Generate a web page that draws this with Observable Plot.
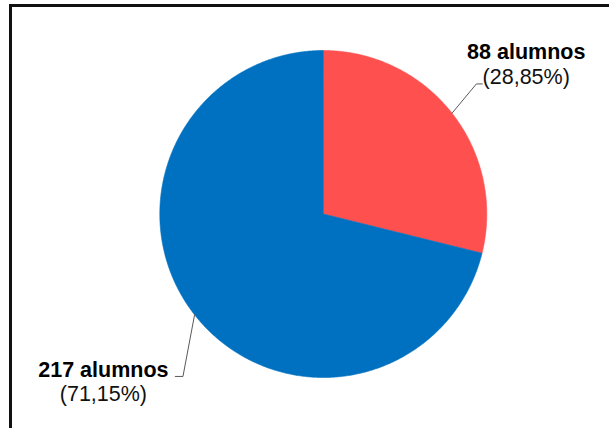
<!DOCTYPE html>
<html>
<head>
<meta charset="utf-8">
<script src="https://cdn.jsdelivr.net/npm/d3@7"></script>
<script src="https://cdn.jsdelivr.net/npm/@observablehq/plot@0.6"></script>
<style>
  html, body { margin: 0; padding: 0; background: #fff; overflow: hidden; }
  #wrap { position: relative; width: 609px; height: 428px; }
  #frame { position: absolute; left: 9px; top: 4px; width: 700px; height: 500px;
           border-left: 3px solid #111; border-top: 3px solid #111; box-sizing: border-box; }
  #chart { position: absolute; left: 0; top: 0; }
</style>
</head>
<body>
<div id="wrap"><div id="frame"></div><div id="chart"></div></div>
<script>
// ---- data ----
const categories = ["Grupo A", "Grupo B"];
const counts = [88, 217];
const countLabels = ["88 alumnos", "217 alumnos"];
const percentLabels = ["(28,85%)", "(71,15%)"];
const colors = ["#FF5050", "#0070C0"];

// ---- layout (not data) ----
const W = 609, H = 428;
const cx = 322.8, cy = 213.5, R = 163.5;
// per-slice label layout, in radius units relative to rim point
const labelLayout = [
  {elbow: [0.149, 0.179], tick: 0.036, text: [1.241, 0.796], line: 25},
  {elbow: [-0.071, -0.377], tick: -0.047, text: [-1.345, -1.144], line: 24.5}
];

// ---- geometry from data via d3.pie ----
const pie = d3.pie().sort(null).startAngle(0).endAngle(2 * Math.PI)(counts);
const slices = pie.map((p, i) => ({...p, cat: categories[i], color: colors[i]}));

const poly = [];
slices.forEach(s => {
  const n = Math.max(8, Math.ceil((s.endAngle - s.startAngle) / (Math.PI / 360)));
  poly.push({cat: s.cat, x: 0, y: 0});
  for (let k = 0; k <= n; k++) {
    const a = s.startAngle + (s.endAngle - s.startAngle) * k / n;
    poly.push({cat: s.cat, x: Math.sin(a), y: Math.cos(a)});
  }
  poly.push({cat: s.cat, x: 0, y: 0});
});

const leaders = [];
const labels = [];
slices.forEach((s, i) => {
  const mid = (s.startAngle + s.endAngle) / 2;
  const L = labelLayout[i];
  const px = Math.sin(mid), py = Math.cos(mid);
  const ex = px + L.elbow[0], ey = py + L.elbow[1];
  leaders.push({cat: s.cat, x: px, y: py});
  leaders.push({cat: s.cat, x: ex, y: ey});
  leaders.push({cat: s.cat, x: ex + L.tick, y: ey});
  labels.push({cat: s.cat, x: L.text[0], y: L.text[1], count: countLabels[i], pct: percentLabels[i], line: L.line});
});

const chart = Plot.plot({
  width: W, height: H,
  margin: 0,
  style: {background: "transparent", overflow: "visible"},
  x: {domain: [-1, 1], range: [cx - R, cx + R], axis: null},
  y: {domain: [-1, 1], range: [cy + R, cy - R], axis: null},
  color: {domain: categories, range: colors},
  marks: [
    Plot.line(poly, {x: "x", y: "y", z: "cat", fill: "cat", stroke: "cat", strokeWidth: 0.6, curve: "linear"}),
    Plot.line(leaders, {x: "x", y: "y", z: "cat", stroke: "#595959", strokeWidth: 1}),
    ...labels.map(l => Plot.text([l], {x: "x", y: "y", text: "count", textAnchor: "middle", lineAnchor: "bottom",
      dy: -l.line, fontSize: 21.5, fontWeight: "bold", fill: "#000", fontFamily: "Liberation Sans, Arial, sans-serif"})),
    Plot.text(labels, {x: "x", y: "y", text: "pct", textAnchor: "middle", lineAnchor: "bottom",
      fontSize: 21.5, fill: "#111", fontFamily: "Liberation Sans, Arial, sans-serif"})
  ]
});
document.getElementById("chart").appendChild(chart);
</script>
</body>
</html>
